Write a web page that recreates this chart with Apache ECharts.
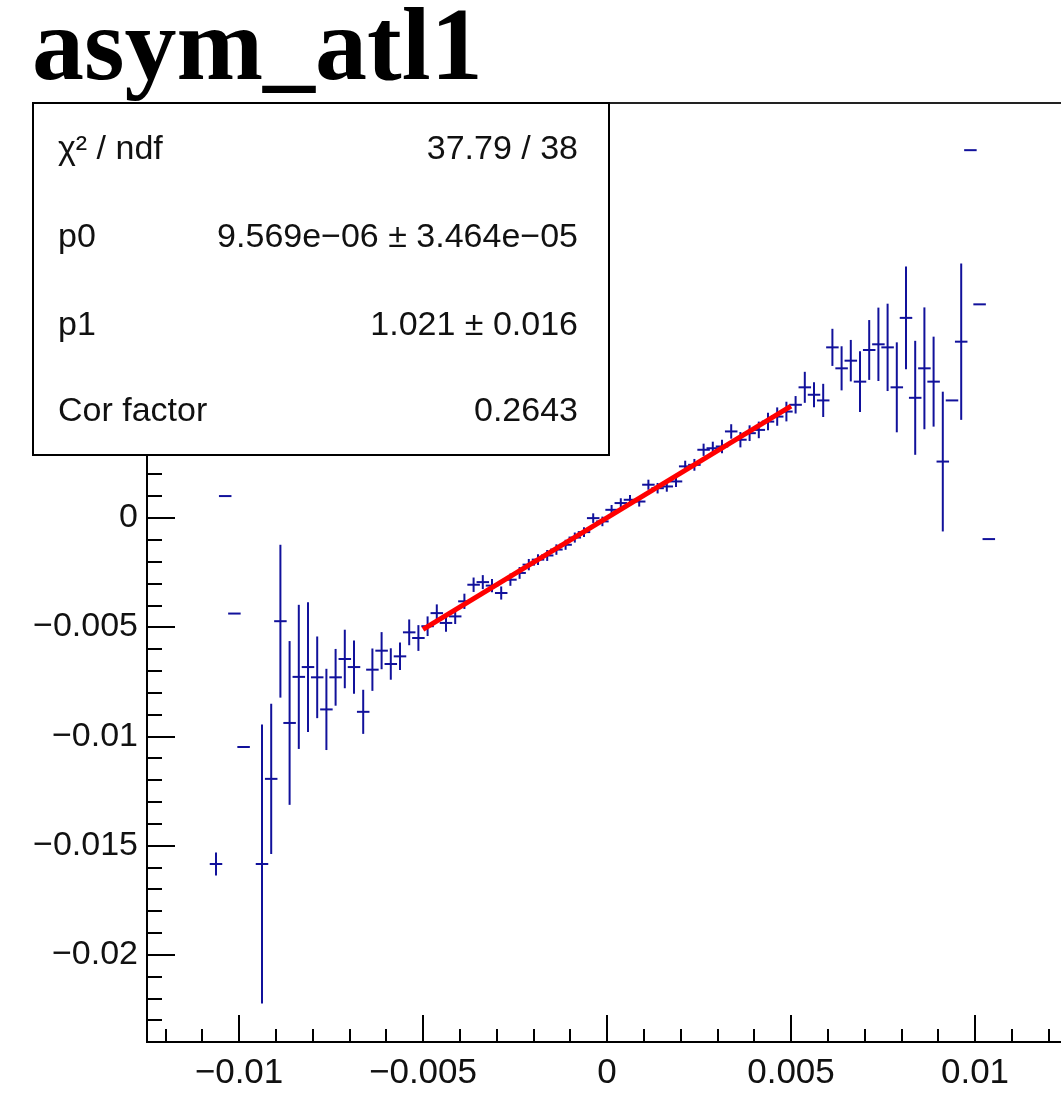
<!DOCTYPE html>
<html>
<head>
<meta charset="utf-8">
<script src="https://cdn.jsdelivr.net/npm/echarts@6/dist/echarts.min.js"></script>
<style>
  html, body { margin: 0; padding: 0; background: #fff; }
  #chart { width: 1061px; height: 1112px; }
</style>
</head>
<body>
<div id="chart"></div>
<script>
// ---- Data ----
const binX = [
  -0.010625, -0.010375, -0.010125, -0.009875, -0.009375, -0.009125, -0.008875, -0.008625,
  -0.008375, -0.008125, -0.007875, -0.007625, -0.007375, -0.007125, -0.006875, -0.006625,
  -0.006375, -0.006125, -0.005875, -0.005625, -0.005375, -0.005125,
  -0.004875, -0.004625, -0.004375, -0.004125, -0.003875, -0.003625, -0.003375, -0.003125,
  -0.002875, -0.002625, -0.002375, -0.002125, -0.001875, -0.001625, -0.001375, -0.001125,
  -0.000875, -0.000625, -0.000375, -0.000125, 0.000125, 0.000375, 0.000625, 0.000875,
  0.001125, 0.001375, 0.001625, 0.001875, 0.002125, 0.002375, 0.002625, 0.002875,
  0.003125, 0.003375, 0.003625, 0.003875, 0.004125, 0.004375, 0.004625, 0.004875,
  0.005125, 0.005375, 0.005625, 0.005875, 0.006125, 0.006375, 0.006625, 0.006875,
  0.007125, 0.007375, 0.007625, 0.007875, 0.008125, 0.008375, 0.008625, 0.008875,
  0.009125, 0.009375, 0.009625, 0.009875, 0.010125, 0.010375
];
const binY = [
  -0.01585, 0.00100, -0.00438, -0.01049, -0.01585, -0.01195, -0.00473, -0.00939,
  -0.00728, -0.00683, -0.00730, -0.00877, -0.00730, -0.00646, -0.00683, -0.00888,
  -0.00695, -0.00608, -0.00669, -0.00634, -0.00524, -0.00550,
  -0.00496, -0.00436, -0.00481, -0.00451, -0.00382, -0.00306, -0.00294, -0.00310,
  -0.00344, -0.00283, -0.00252, -0.00214, -0.00191, -0.00172, -0.00145, -0.00123,
  -0.00090, -0.00065, -0.00001, -0.00016, 0.00037, 0.00068, 0.00083, 0.00075,
  0.00152, 0.00136, 0.00144, 0.00167, 0.00236, 0.00243, 0.00312, 0.00319,
  0.00327, 0.00396, 0.00358, 0.00388, 0.00403, 0.00441, 0.00464, 0.00487,
  0.00518, 0.00598, 0.00564, 0.00538, 0.00781, 0.00685, 0.00720, 0.00624,
  0.00769, 0.00795, 0.00781, 0.00598, 0.00916, 0.00550, 0.00685, 0.00624,
  0.00258, 0.00538, 0.00807, 0.01684, 0.00978, -0.00097
];
const binErr = [
  0.00053, 0, 0, 0, 0.00639, 0.00344, 0.00350, 0.00375,
  0.00330, 0.00297, 0.00187, 0.00186, 0.00130, 0.00134, 0.00122, 0.00101,
  0.00097, 0.00085, 0.00072, 0.00063, 0.00059, 0.00059,
  0.00045, 0.00040, 0.00040, 0.00035, 0.00035, 0.00033, 0.00032, 0.00030,
  0.00030, 0.00028, 0.00027, 0.00026, 0.00025, 0.00025, 0.00024, 0.00023,
  0.00023, 0.00022, 0.00022, 0.00022, 0.00022, 0.00022, 0.00022, 0.00023,
  0.00023, 0.00024, 0.00024, 0.00025, 0.00026, 0.00027, 0.00028, 0.00030,
  0.00031, 0.00033, 0.00035, 0.00036, 0.00038, 0.00040, 0.00042, 0.00045,
  0.00040, 0.00071, 0.00057, 0.00076, 0.00085, 0.00101, 0.00095, 0.00139,
  0.00137, 0.00168, 0.00200, 0.00206, 0.00235, 0.00261, 0.00279, 0.00206,
  0.00320, 0, 0.00358, 0, 0, 0
];

// Fit line end points
const fitX = [-0.005, 0.005];
const fitY = [-0.00510, 0.00512];

// Axis tick values / labels
const xMajorTicks = [-0.01, -0.005, 0, 0.005, 0.01];
const xMinorTicks = [-0.012, -0.011, -0.009, -0.008, -0.007, -0.006, -0.004, -0.003, -0.002, -0.001,
                     0.001, 0.002, 0.003, 0.004, 0.006, 0.007, 0.008, 0.009, 0.011, 0.012];
const yMajorTicks = [-0.02, -0.015, -0.01, -0.005, 0, 0.005, 0.01, 0.015];
const yMinorTicks = [-0.024, -0.023, -0.022, -0.021, -0.019, -0.018, -0.017, -0.016, -0.014, -0.013,
                     -0.012, -0.011, -0.009, -0.008, -0.007, -0.006, -0.004, -0.003, -0.002, -0.001,
                     0.001, 0.002, 0.003, 0.004, 0.006, 0.007, 0.008, 0.009, 0.011, 0.012, 0.013, 0.014,
                     0.016, 0.017, 0.018, 0.019];

// Stats box text
const statLabels = ['χ² / ndf', 'p0', 'p1', 'Cor factor'];
const statValues = ['37.79 / 38', '9.569e−06 ± 3.464e−05', '1.021 ± 0.016', '0.2643'];
const titleText = 'asym_atl1';

// ---- Styling constants ----
const HALF_W = 0.00017;
const MARK_COLOR = '#11119b';
const fmt = v => String(v).replace('-', '\u2212');

const points = binX.map((x, i) => [x, binY[i], binErr[i]]);

const chart = echarts.init(document.getElementById('chart'), null, { renderer: 'canvas' });

const statGraphics = [];
statGraphics.push({
  type: 'rect', z: 100,
  shape: { x: 33, y: 103, width: 576, height: 352 },
  style: { fill: '#fff', stroke: '#000', lineWidth: 2 }
});
const rowY = [150, 238, 326, 412];
statLabels.forEach((t, i) => {
  statGraphics.push({
    type: 'text', z: 101,
    style: { x: 58, y: rowY[i], text: t, fill: '#111', font: '34px "Liberation Sans", Arial, sans-serif',
             textAlign: 'left', textVerticalAlign: 'middle' }
  });
  statGraphics.push({
    type: 'text', z: 101,
    style: { x: 578, y: rowY[i], text: statValues[i], fill: '#111', font: '34px "Liberation Sans", Arial, sans-serif',
             textAlign: 'right', textVerticalAlign: 'middle' }
  });
});

const axisFont = '"Liberation Sans", Arial, sans-serif';
const tickLine = { color: '#000', width: 2 };

function tickOnlyX(values, len) {
  return {
    type: 'value', min: -0.0125, max: 0.0125, position: 'bottom', offset: 0,
    axisLine: { show: false, onZero: false },
    axisTick: { show: true, inside: true, length: len, customValues: values, lineStyle: tickLine },
    axisLabel: { show: false },
    splitLine: { show: false }
  };
}
function tickOnlyY(values, len) {
  return {
    type: 'value', min: -0.024, max: 0.019, position: 'left', offset: 0,
    axisLine: { show: false, onZero: false },
    axisTick: { show: true, inside: true, length: len, customValues: values, lineStyle: tickLine },
    axisLabel: { show: false },
    splitLine: { show: false }
  };
}

const option = {
  animation: false,
  backgroundColor: '#fff',
  title: {
    text: titleText,
    left: 32, top: 0, padding: 0,
    textStyle: { fontFamily: '"Liberation Serif", "Times New Roman", serif', fontWeight: 'bold', fontSize: 104, color: '#000' }
  },
  grid: {
    left: 147, top: 103, width: 920, height: 939,
    show: true, borderColor: '#222', borderWidth: 2, backgroundColor: 'transparent',
    outerBoundsMode: 'none'
  },
  xAxis: [
    {
      type: 'value', min: -0.0125, max: 0.0125, position: 'bottom', offset: 0,
      axisLine: { show: true, onZero: false, lineStyle: { color: '#000', width: 2 } },
      axisTick: { show: false },
      axisLabel: { show: true, customValues: xMajorTicks, formatter: fmt, margin: 14,
                   fontFamily: axisFont, fontSize: 35, color: '#111' },
      splitLine: { show: false }
    },
    tickOnlyX(xMajorTicks, 27),
    tickOnlyX(xMinorTicks, 13)
  ],
  yAxis: [
    {
      type: 'value', min: -0.024, max: 0.019, position: 'left', offset: 0,
      axisLine: { show: true, onZero: false, lineStyle: { color: '#000', width: 2 } },
      axisTick: { show: false },
      axisLabel: { show: true, customValues: yMajorTicks, formatter: fmt, margin: 9,
                   fontFamily: axisFont, fontSize: 34, color: '#111' },
      splitLine: { show: false }
    },
    tickOnlyY(yMajorTicks, 28),
    tickOnlyY(yMinorTicks, 15)
  ],
  graphic: statGraphics,
  series: [
    {
      type: 'custom', xAxisIndex: 0, yAxisIndex: 0, clip: true, z: 5,
      data: points,
      encode: { x: 0, y: 1 },
      renderItem: function (params, api) {
        const x = api.value(0), y = api.value(1), e = api.value(2);
        const c = api.coord([x, y]);
        const l = api.coord([x - HALF_W, y]);
        const r = api.coord([x + HALF_W, y]);
        const children = [{
          type: 'line',
          shape: { x1: l[0], y1: c[1], x2: r[0], y2: c[1] },
          style: { stroke: MARK_COLOR, lineWidth: 2 }
        }];
        if (e > 0) {
          const t = api.coord([x, y + e]);
          const b = api.coord([x, y - e]);
          children.push({
            type: 'line',
            shape: { x1: c[0], y1: t[1], x2: c[0], y2: b[1] },
            style: { stroke: MARK_COLOR, lineWidth: 2 }
          });
        }
        return { type: 'group', children: children };
      }
    },
    {
      type: 'line', xAxisIndex: 0, yAxisIndex: 0, z: 10,
      data: fitX.map((x, i) => [x, fitY[i]]),
      showSymbol: false, symbol: 'none',
      lineStyle: { color: '#ff0000', width: 5 }
    }
  ]
};

chart.setOption(option);
</script>
</body>
</html>
